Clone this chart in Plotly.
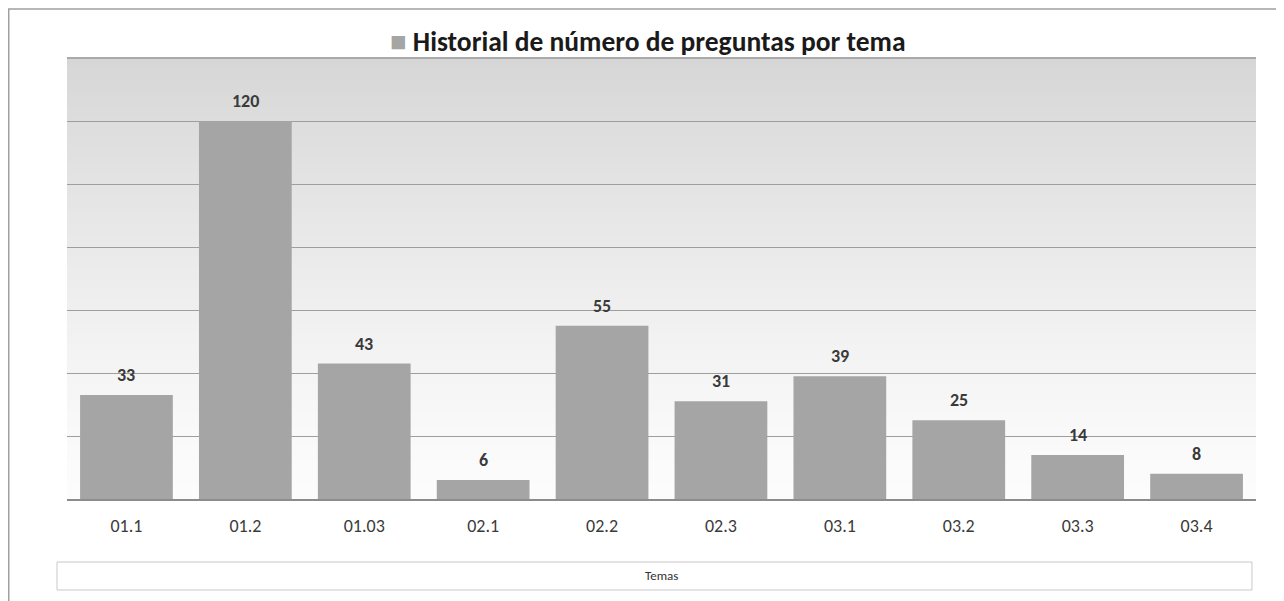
import plotly.graph_objects as go

categories = ["01.1", "01.2", "01.03", "02.1", "02.2", "02.3", "03.1", "03.2", "03.3", "03.4"]
values = [33, 120, 43, 6, 55, 31, 39, 25, 14, 8]
title_text = "Historial de número de preguntas por tema"
axis_title = "Temas"

FONT = "Carlito, Calibri, Lato, 'Open Sans', sans-serif"
BAR = "#a5a5a5"

fig = go.Figure()
fig.add_trace(go.Bar(
    x=categories, y=values, marker=dict(color=BAR, line=dict(width=0)),
    width=0.78, showlegend=False, hoverinfo="x+y",
))

# value labels (x given as category index)
for i, v in enumerate(values):
    fig.add_annotation(x=i, y=v, xref="x", yref="y", text=f"<b>{v}</b>", showarrow=False,
                       yshift=20, font=dict(family=FONT, size=18, color="#3a3a3a"))

shapes = []
# gradient background in plot area
n = 80
for i in range(n):
    t0 = i / n
    t1 = (i + 1) / n
    tm = (t0 + t1) / 2  # 0 bottom -> 1 top
    g = int(round(252 - (252 - 214) * (tm ** 1.3)))
    shapes.append(dict(type="rect", xref="paper", yref="paper", x0=0, x1=1, y0=t0, y1=t1 + 0.002,
                       fillcolor=f"rgb({g},{g},{g})", line=dict(width=0), layer="below"))
# top border of plot area
shapes.append(dict(type="line", xref="paper", yref="paper", x0=0, x1=1, y0=1, y1=1,
                   line=dict(color="#9a9a9a", width=1.5), layer="below"))
# axis title box
shapes.append(dict(type="rect", xref="paper", yref="paper", x0=-0.0084, x1=0.9966,
                   y0=-0.2063, y1=-0.1429, line=dict(color="#c8c8c8", width=1), fillcolor="white"))
# outer border (bottom edge falls outside the visible page)
shapes.append(dict(type="rect", xref="paper", yref="paper", x0=-0.0490, x1=1.0225,
                   y0=-0.2500, y1=1.1110, line=dict(color="#a0a0a0", width=1.5), fillcolor="rgba(0,0,0,0)"))

fig.add_annotation(xref="paper", yref="paper", x=0.5, y=-0.1746, yanchor="middle", text=axis_title,
                   showarrow=False, font=dict(family=FONT, size=13, color="#333333"))
fig.add_annotation(xref="paper", yref="paper", x=0.4880, y=1.0365, yanchor="middle",
                   text=f"<span style='color:{BAR}'>■</span> <b>{title_text}</b>", showarrow=False,
                   font=dict(family=FONT, size=27.5, color="#1a1a1a"))

fig.update_layout(
    width=1276, height=593,
    margin=dict(l=59, r=28, t=50, b=102),
    paper_bgcolor="white", plot_bgcolor="rgba(0,0,0,0)",
    shapes=shapes, bargap=0.22,
    font=dict(family=FONT),
    xaxis=dict(type="category", showgrid=False, showline=True, linecolor="#8c8c8c", linewidth=1.5,
               ticks="", tickfont=dict(family=FONT, size=18, color="#3a3a3a"), ticklabelstandoff=10),
    yaxis=dict(range=[0, 140], dtick=20, showticklabels=False, showgrid=True,
               gridcolor="#9e9e9e", gridwidth=1, zeroline=False, showline=False),
)

fig.write_html("out.html")
